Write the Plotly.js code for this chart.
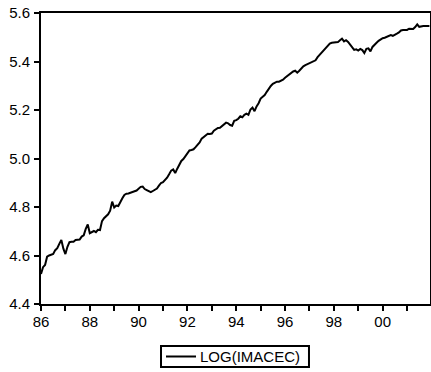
<!DOCTYPE html>
<html>
<head>
<meta charset="utf-8">
<script src="https://cdn.plot.ly/plotly-3.0.1.min.js"></script>
<style>html,body{margin:0;padding:0;background:#fff;}#chart{width:431px;height:372px;}</style>
</head>
<body>
<div id="chart"></div>
<script>
const startYear = 1986;
const seriesName = "LOG(IMACEC)";
const logImacec = [
  // 1986
  4.524, 4.552, 4.561, 4.595, 4.600, 4.603, 4.606, 4.622, 4.630, 4.648, 4.664, 4.628,
  // 1987
  4.606, 4.636, 4.655, 4.657, 4.657, 4.664, 4.664, 4.666, 4.678, 4.683, 4.710, 4.728,
  // 1988
  4.692, 4.698, 4.701, 4.696, 4.706, 4.705, 4.742, 4.754, 4.762, 4.770, 4.785, 4.822,
  // 1989
  4.798, 4.806, 4.804, 4.822, 4.836, 4.850, 4.855, 4.856, 4.860, 4.864, 4.865, 4.868,
  // 1990
  4.875, 4.883, 4.884, 4.874, 4.870, 4.866, 4.861, 4.866, 4.871, 4.876, 4.888, 4.899,
  // 1991
  4.902, 4.910, 4.921, 4.935, 4.950, 4.955, 4.940, 4.958, 4.975, 4.990, 4.998, 5.010,
  // 1992
  5.019, 5.033, 5.035, 5.038, 5.047, 5.056, 5.066, 5.082, 5.089, 5.095, 5.102, 5.101,
  // 1993
  5.103, 5.115, 5.122, 5.126, 5.127, 5.133, 5.141, 5.148, 5.145, 5.138, 5.135, 5.155,
  // 1994
  5.158, 5.164, 5.174, 5.170, 5.180, 5.185, 5.180, 5.202, 5.210, 5.195, 5.215, 5.228,
  // 1995
  5.247, 5.253, 5.262, 5.275, 5.289, 5.299, 5.308, 5.314, 5.317, 5.317, 5.320, 5.325,
  // 1996
  5.333, 5.340, 5.347, 5.353, 5.359, 5.362, 5.354, 5.362, 5.372, 5.380, 5.385, 5.389,
  // 1997
  5.393, 5.396, 5.399, 5.405, 5.418, 5.427, 5.434, 5.443, 5.452, 5.465, 5.474, 5.477,
  // 1998
  5.478, 5.478, 5.480, 5.488, 5.494, 5.483, 5.488, 5.481, 5.470, 5.457, 5.448, 5.450,
  // 1999
  5.445, 5.452, 5.447, 5.435, 5.452, 5.454, 5.442, 5.460, 5.471, 5.477, 5.485, 5.492,
  // 2000
  5.496, 5.498, 5.501, 5.506, 5.509, 5.506, 5.512, 5.515, 5.520, 5.528, 5.530, 5.530,
  // 2001
  5.530, 5.535, 5.535, 5.534, 5.542, 5.553, 5.543, 5.546, 5.546, 5.546, 5.546, 5.546
];
const xTickYears = [1986,1987,1988,1989,1990,1991,1992,1993,1994,1995,1996,1997,1998,1999,2000,2001];
const xTickLabels = ["86","","88","","90","","92","","94","","96","","98","","00",""];
const yTickVals = [4.4, 4.6, 4.8, 5.0, 5.2, 5.4, 5.6];
const yTickLabels = ["4.4","4.6","4.8","5.0","5.2","5.4","5.6"];

const xs = logImacec.map((v, i) => startYear + i / 12);
const FONT = 'Liberation Sans, Arial, sans-serif';

const trace = {
  x: xs, y: logImacec, type: 'scatter', mode: 'lines', name: seriesName,
  line: {color: '#000', width: 2}, showlegend: false
};

const axisCommon = {
  showgrid: false, zeroline: false, showline: true, mirror: true,
  linecolor: '#000', linewidth: 2, ticks: 'outside', ticklen: 5, tickwidth: 2,
  tickcolor: '#000', tickfont: {family: FONT, size: 15, color: '#000'}
};

// legend drawn as a framed box below the plot (paper coordinates)
const legBox = {x0: 0.3085, x1: 0.6889, y0: -0.2165, y1: -0.1443};
const legLine = {x0: 0.3213, x1: 0.3985, y: -0.1804};
const legTextX = 0.4087;

const layout = {
  width: 431, height: 372,
  margin: {l: 41, r: 1, t: 13, b: 68},
  paper_bgcolor: '#fff', plot_bgcolor: '#fff',
  font: {family: FONT, color: '#000'},
  showlegend: false,
  xaxis: Object.assign({}, axisCommon, {
    range: [1986, 2001.94], tickmode: 'array', tickvals: xTickYears, ticktext: xTickLabels,
    ticklabelstandoff: -2
  }),
  yaxis: Object.assign({}, axisCommon, {
    range: [4.4, 5.6], tickmode: 'array', tickvals: yTickVals, ticktext: yTickLabels,
    ticklabelstandoff: 1
  }),
  shapes: [
    {type: 'rect', xref: 'paper', yref: 'paper', x0: legBox.x0, x1: legBox.x1, y0: legBox.y0, y1: legBox.y1,
     line: {color: '#000', width: 2}, fillcolor: '#fff'},
    {type: 'line', xref: 'paper', yref: 'paper', x0: legLine.x0, x1: legLine.x1, y0: legLine.y, y1: legLine.y,
     line: {color: '#000', width: 2}}
  ],
  annotations: [
    {xref: 'paper', yref: 'paper', x: legTextX, y: legLine.y, xanchor: 'left', yanchor: 'middle',
     text: seriesName, showarrow: false, xshift: -2, font: {family: FONT, size: 15, color: '#000'}}
  ]
};

Plotly.newPlot('chart', [trace], layout, {displayModeBar: false, staticPlot: true});
</script>
</body>
</html>
